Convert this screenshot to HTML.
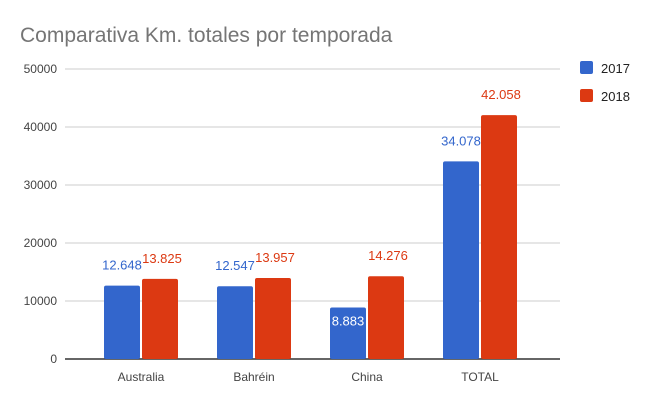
<!DOCTYPE html>
<html><head><meta charset="utf-8"><style>
body{margin:0;background:#fff;}
svg text{font-family:"Liberation Sans",Roboto,sans-serif;}
</style></head><body>
<svg id="c" width="652" height="403" xmlns="http://www.w3.org/2000/svg">
<text x="20" y="42" font-size="21" fill="#757575">Comparativa Km. totales por temporada</text>
<g id="grid"></g><g id="bars"></g>
<g>
<rect x="580" y="61" width="13" height="13" rx="2" fill="#3366cc"/>
<text x="601" y="73" font-size="13" fill="#222">2017</text>
<rect x="580" y="89" width="13" height="13" rx="2" fill="#dc3912"/>
<text x="601" y="101" font-size="13" fill="#222">2018</text>
</g>
</svg>
<script>
const categories=["Australia","Bahréin","China","TOTAL"];
const values2017=[12648,12547,8883,34078];
const values2018=[13825,13957,14276,42058];
const labels2017=["12.648","12.547","8.883","34.078"];
const labels2018=["13.825","13.957","14.276","42.058"];
const yTicks=[0,10000,20000,30000,50000,40000];
const NS="http://www.w3.org/2000/svg";
const y=v=>359-v*0.0058;
const cx=i=>141+i*113;
function mk(tag,attrs,parent,txt){const e=document.createElementNS(NS,tag);for(const k in attrs)e.setAttribute(k,attrs[k]);if(txt!==undefined)e.textContent=txt;parent.appendChild(e);return e;}
const grid=document.getElementById('grid'),bars=document.getElementById('bars');
yTicks.forEach(t=>{
  const l=mk('line',{x1:65,x2:560,y1:y(t),y2:y(t),stroke:t===0?'#333':'#ccc','stroke-width':t===0?1.5:1},grid);
  
  
  const tx=mk('text',{x:57,y:y(t)+4,'text-anchor':'end','font-size':12,fill:'#444'},grid,String(t));
  
  
});
categories.forEach((c,i)=>{
  const b1=mk('rect',{x:cx(i)-37,y:y(values2017[i]),width:36,height:359-y(values2017[i]),fill:'#3366cc',rx:2},bars);
  
  
  const b2=mk('rect',{x:cx(i)+1,y:y(values2018[i]),width:36,height:359-y(values2018[i]),fill:'#dc3912',rx:2},bars);
  
  
  const inside=values2017[i]<10000;
  const l1=mk('text',{x:cx(i)-19,y:inside?y(values2017[i])+18:y(values2017[i])-16,'text-anchor':'middle','font-size':13,fill:inside?'#fff':'#3366cc'},bars,labels2017[i]);
  
  
  const l2=mk('text',{x:cx(i)+21,y:y(values2018[i])-16,'text-anchor':'middle','font-size':13,fill:'#dc3912'},bars,labels2018[i]);
  
  
  const cl=mk('text',{x:cx(i),y:381,'text-anchor':'middle','font-size':12,fill:'#444'},bars,c);
  
  
});
</script>
</body></html>
